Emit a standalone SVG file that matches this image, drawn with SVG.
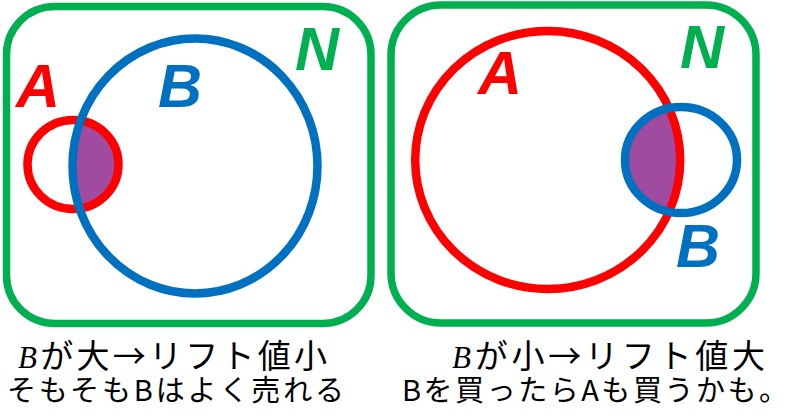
<svg xmlns="http://www.w3.org/2000/svg" width="790" height="420" viewBox="0 0 790 420">
<style>
.frame{fill:none;stroke:#00B050;stroke-width:7.5}
.red{fill:none;stroke:#FF0000;stroke-width:8.5}
.blue{fill:none;stroke:#0070C0;stroke-width:8.5}
.purple{fill:#A04BA0}
.lbl{font-family:"Liberation Sans",Arial,sans-serif;font-weight:bold;font-style:italic;font-size:61px;text-anchor:middle}
.cap1{font-family:"Noto Sans CJK JP","Noto Sans",sans-serif;font-size:33px;fill:#000}
.cap2{font-family:"Noto Sans CJK JP","Noto Sans",sans-serif;font-size:29px;fill:#000}
.mi{font-family:"Liberation Serif","DejaVu Serif",serif;font-style:italic;font-size:31px}
</style>
<defs>
<clipPath id="clipLB"><ellipse cx="195" cy="166" rx="122.5" ry="127.5"/></clipPath>
<clipPath id="clipRB"><ellipse cx="681" cy="160" rx="56" ry="53"/></clipPath>
</defs>
<g id="left-panel">
<rect class="frame" x="6.5" y="6.5" width="364.5" height="317" rx="48"/>
<ellipse class="purple" cx="73" cy="164.5" rx="45.5" ry="44.5" clip-path="url(#clipLB)"/>
<ellipse class="red" cx="73" cy="164.5" rx="45.5" ry="44.5"/>
<ellipse class="blue" cx="195" cy="166" rx="122.5" ry="127.5"/>
<text class="lbl" x="38" y="107" fill="#FF0000">A</text>
<text class="lbl" x="180" y="107" fill="#0070C0">B</text>
<text class="lbl" x="317" y="70" fill="#00B050">N</text>
</g>
<g id="right-panel">
<rect class="frame" x="391" y="5" width="365" height="318" rx="50"/>
<ellipse class="purple" cx="547.7" cy="160" rx="132.5" ry="129" clip-path="url(#clipRB)"/>
<ellipse class="red" cx="547.7" cy="160" rx="132.5" ry="129"/>
<ellipse class="blue" cx="681" cy="160" rx="56" ry="53"/>
<text class="lbl" x="500" y="94" fill="#FF0000">A</text>
<text class="lbl" x="702" y="68" fill="#00B050">N</text>
<text class="lbl" x="698" y="267" fill="#0070C0">B</text>
</g>
<g id="captions">
<text class="cap1" x="18" y="368" textLength="309" lengthAdjust="spacing"><tspan class="mi">B</tspan>が大→リフト値小</text>
<text class="cap2" x="7" y="401" textLength="337" lengthAdjust="spacing">そもそもBはよく売れる</text>
<text class="cap1" x="452" y="368" textLength="313" lengthAdjust="spacing"><tspan class="mi">B</tspan>が小→リフト値大</text>
<text class="cap2" x="402" y="401" textLength="386" lengthAdjust="spacing">Bを買ったらAも買うかも。</text>
</g>
</svg>
